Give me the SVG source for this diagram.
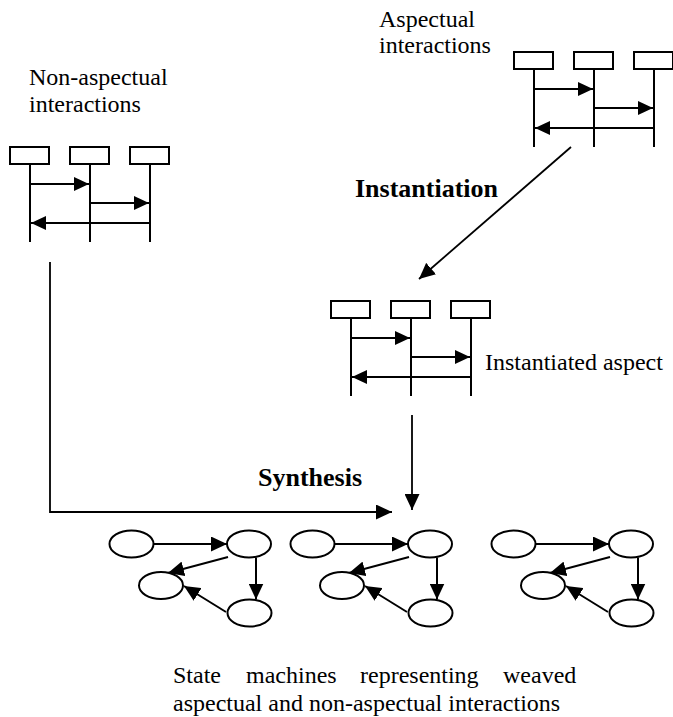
<svg xmlns="http://www.w3.org/2000/svg" xmlns:xlink="http://www.w3.org/1999/xlink" width="673" height="717" viewBox="0 0 673 717">
<style>
  .txt { font-family: "Liberation Serif", "Times New Roman", serif; font-size: 24px; fill: #000; }
  .bold { font-family: "Liberation Serif", "Times New Roman", serif; font-size: 26px; font-weight: bold; fill: #000; }
  .box { fill: #fff; stroke: #000; stroke-width: 2; }
  .life { stroke: #000; stroke-width: 2; fill: none; }
  .msg { stroke: #000; stroke-width: 2; fill: none; marker-end: url(#ahs); }
  .state { fill: #fff; stroke: #000; stroke-width: 2; }
  .tr { stroke: #000; stroke-width: 2; fill: none; marker-end: url(#ah); }
  .conn { stroke: #000; stroke-width: 1.8; fill: none; marker-end: url(#ah); }
</style>
<defs>
  <marker id="ah" markerUnits="userSpaceOnUse" markerWidth="16" markerHeight="15" refX="16" refY="7.5" orient="auto">
    <path d="M0,0 L16,7.5 L0,15 z" fill="#000"/>
  </marker>
  <marker id="ahs" markerUnits="userSpaceOnUse" markerWidth="15" markerHeight="14" refX="15" refY="7" orient="auto">
    <path d="M0,0 L15,7 L0,14 z" fill="#000"/>
  </marker>
  <g id="seq">
    <line class="life" x1="0" y1="19" x2="0" y2="96"/>
    <line class="life" x1="60" y1="19" x2="60" y2="96"/>
    <line class="life" x1="120" y1="19" x2="120" y2="96"/>
    <rect class="box" x="-20" y="1" width="39" height="17"/>
    <rect class="box" x="40" y="1" width="39" height="17"/>
    <rect class="box" x="100" y="1" width="39" height="17"/>
    <line class="msg" x1="0" y1="38" x2="59" y2="38"/>
    <line class="msg" x1="60" y1="57" x2="119" y2="57"/>
    <line class="msg" x1="120" y1="77" x2="1" y2="77"/>
  </g>
  <g id="sm">
    <line class="tr" x1="153.5" y1="544" x2="227" y2="544"/>
    <line class="tr" x1="228" y1="557" x2="168" y2="573"/>
    <line class="tr" x1="256" y1="557.5" x2="256" y2="599.5"/>
    <line class="tr" x1="226" y1="612" x2="184" y2="586"/>
    <ellipse class="state" cx="131.5" cy="544" rx="22" ry="13.5"/>
    <ellipse class="state" cx="249" cy="544" rx="22" ry="13.5"/>
    <ellipse class="state" cx="161" cy="585.5" rx="22" ry="13.5"/>
    <ellipse class="state" cx="249.5" cy="613" rx="22" ry="13.5"/>
  </g>
</defs>

<g id="connectors">
  <line class="conn" x1="571" y1="147" x2="419" y2="279"/>
  <polyline class="conn" points="50,262 50,512 392,512"/>
  <line class="conn" x1="412" y1="415" x2="412" y2="510"/>
</g>

<g id="non-aspectual">
  <text class="txt" x="29" y="85">Non-aspectual</text>
  <text class="txt" x="29" y="112">interactions</text>
  <use xlink:href="#seq" transform="translate(30,146)"/>
</g>

<g id="aspectual">
  <text class="txt" x="379" y="27">Aspectual</text>
  <text class="txt" x="379" y="53">interactions</text>
  <use xlink:href="#seq" transform="translate(534,51)"/>
</g>

<g id="instantiated-aspect">
  <use xlink:href="#seq" transform="translate(351,300)"/>
  <text class="txt" x="485" y="370">Instantiated aspect</text>
</g>

<g id="label-instantiation">
  <text class="bold" x="355" y="197">Instantiation</text>
</g>
<g id="label-synthesis">
  <text class="bold" x="258" y="486">Synthesis</text>
</g>

<g id="state-machine-1">
  <use xlink:href="#sm"/>
</g>
<g id="state-machine-2">
  <use xlink:href="#sm" transform="translate(181,0)"/>
</g>
<g id="state-machine-3">
  <use xlink:href="#sm" transform="translate(382,0)"/>
</g>

<g id="caption">
  <text class="txt" y="683"><tspan x="173">State</tspan><tspan x="246">machines</tspan><tspan x="360">representing</tspan><tspan x="503">weaved</tspan></text>
  <text class="txt" x="173" y="711">aspectual and non-aspectual interactions</text>
</g>
</svg>
